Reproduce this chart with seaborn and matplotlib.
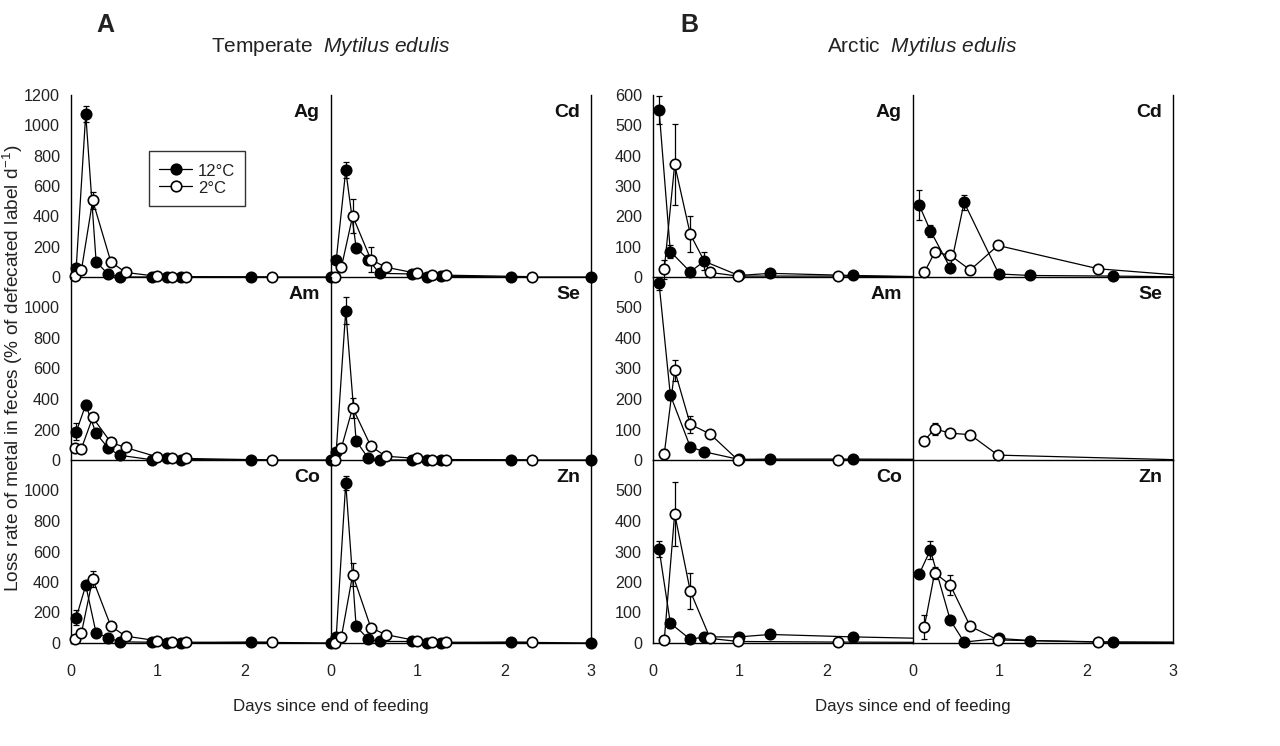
import numpy as np
import pandas as pd
import seaborn as sns
import matplotlib
matplotlib.use("Agg")
import matplotlib.pyplot as plt
from matplotlib.lines import Line2D

# ---------------- data ----------------
METALS = [["Ag", "Cd"], ["Am", "Se"], ["Co", "Zn"]]
TEMPS = ["12°C", "2°C"]
X_TICKS = [0, 0.5, 1, 1.5, 2, 2.5, 3]

# Temperate group (A) sampling times (days)
A12_T = [0.06, 0.17, 0.29, 0.43, 0.56, 0.93, 1.11, 1.27, 2.08, 3.0]
A2_T = [0.05, 0.12, 0.25, 0.46, 0.63, 0.99, 1.17, 1.33, 2.32]

A_AG_12 = [60, 1075, 100, 18, 0, 0, 0, 0, 0, 0]
A_AG_12_E = [0, 55, 0, 0, 0, 0, 0, 0, 0, 0]
A_AG_2 = [5, 45, 505, 100, 30, 5, 2, 2, 0]
A_AG_2_E = [0, 0, 55, 0, 0, 0, 0, 0, 0]

A_CD_12 = [110, 703, 194, 115, 24, 20, 0, 5, 0, 0]
A_CD_12_E = [0, 52, 0, 0, 0, 0, 0, 0, 0, 0]
A_CD_2 = [0, 65, 402, 115, 65, 24, 15, 12, 2]
A_CD_2_E = [0, 0, 110, 80, 0, 0, 0, 0, 0]

A_AM_12 = [185, 362, 174, 78, 31, 2, 10, 3, 0, 0]
A_AM_12_E = [55, 30, 0, 0, 0, 0, 0, 0, 0, 0]
A_AM_2 = [79, 75, 279, 115, 82, 21, 10, 10, 0]
A_AM_2_E = [0, 0, 0, 0, 0, 0, 0, 0, 0]

A_SE_12 = [55, 980, 125, 12, 0, 0, 0, 0, 0, 0]
A_SE_12_E = [0, 90, 0, 0, 0, 0, 0, 0, 0, 0]
A_SE_2 = [0, 80, 342, 90, 25, 10, 3, 3, 0]
A_SE_2_E = [0, 0, 65, 0, 0, 0, 0, 0, 0]

A_CO_12 = [166, 378, 65, 35, 8, 5, 0, 0, 5, 0]
A_CO_12_E = [50, 0, 0, 0, 0, 0, 0, 0, 0, 0]
A_CO_2 = [25, 65, 420, 110, 45, 15, 5, 5, 5]
A_CO_2_E = [0, 0, 50, 0, 0, 0, 0, 0, 0]

A_ZN_12 = [40, 1050, 110, 25, 10, 10, 0, 0, 5, 0]
A_ZN_12_E = [0, 47, 0, 0, 0, 0, 0, 0, 0, 0]
A_ZN_2 = [0, 40, 449, 100, 55, 15, 5, 5, 5]
A_ZN_2_E = [0, 0, 78, 0, 0, 0, 0, 0, 0]

# Arctic group (B) sampling times (days); lines run on past the axis end
B12_T = [0.07, 0.20, 0.43, 0.59, 0.99, 1.35, 2.31]
B2_T = [0.13, 0.25, 0.43, 0.66, 0.98, 2.14]
B_TAIL_T = 3.3

B_AG_12 = [551, 84, 17, 52, 5, 12, 5]
B_AG_12_E = [45, 20, 0, 30, 0, 0, 0]
B_AG_12_TAIL = 0
B_AG_2 = [25, 371, 141, 15, 3, 3]
B_AG_2_E = [30, 135, 60, 0, 0, 0]
B_AG_2_TAIL = 0

B_CD_12 = [238, 153, 30, 246, 10, 5, 3]
B_CD_12_E = [50, 20, 0, 25, 0, 0, 0]
B_CD_12_TAIL = 0
B_CD_2 = [15, 81, 72, 23, 104, 27]
B_CD_2_E = [0, 0, 0, 0, 0, 0]
B_CD_2_TAIL = 1

B_AM_12 = [579, 213, 43, 27, 2, 3, 3]
B_AM_12_E = [20, 15, 0, 0, 0, 0, 0]
B_AM_12_TAIL = 2
B_AM_2 = [20, 294, 117, 85, 0, 0]
B_AM_2_E = [15, 35, 27, 0, 0, 0]
B_AM_2_TAIL = 0

B_SE_2 = [63, 102, 88, 83, 16, np.nan]
B_SE_2_E = [0, 20, 0, 0, 0, 0]
B_SE_2_TAIL = -1

B_CO_12 = [308, 65, 12, 20, 20, 28, 20]
B_CO_12_E = [27, 15, 0, 0, 0, 0, 0]
B_CO_12_TAIL = 14
B_CO_2 = [10, 424, 170, 15, 5, 3]
B_CO_2_E = [0, 105, 58, 0, 0, 0]
B_CO_2_TAIL = 2

B_ZN_12 = [225, 305, 75, 3, 15, 8, 3]
B_ZN_12_E = [10, 28, 10, 0, 0, 0, 0]
B_ZN_12_TAIL = 2
B_ZN_2 = [52, 230, 190, 55, 10, 3]
B_ZN_2_E = [40, 20, 33, 0, 0, 0]
B_ZN_2_TAIL = 2

# series table built from the lists above: (group, metal, temp) -> (t, v, err, tail)
SERIES = {
    ("A", "Ag", 0): (A12_T, A_AG_12, A_AG_12_E, None), ("A", "Ag", 1): (A2_T, A_AG_2, A_AG_2_E, None),
    ("A", "Cd", 0): (A12_T, A_CD_12, A_CD_12_E, None), ("A", "Cd", 1): (A2_T, A_CD_2, A_CD_2_E, None),
    ("A", "Am", 0): (A12_T, A_AM_12, A_AM_12_E, None), ("A", "Am", 1): (A2_T, A_AM_2, A_AM_2_E, None),
    ("A", "Se", 0): (A12_T, A_SE_12, A_SE_12_E, None), ("A", "Se", 1): (A2_T, A_SE_2, A_SE_2_E, None),
    ("A", "Co", 0): (A12_T, A_CO_12, A_CO_12_E, None), ("A", "Co", 1): (A2_T, A_CO_2, A_CO_2_E, None),
    ("A", "Zn", 0): (A12_T, A_ZN_12, A_ZN_12_E, None), ("A", "Zn", 1): (A2_T, A_ZN_2, A_ZN_2_E, None),
    ("B", "Ag", 0): (B12_T, B_AG_12, B_AG_12_E, B_AG_12_TAIL), ("B", "Ag", 1): (B2_T, B_AG_2, B_AG_2_E, B_AG_2_TAIL),
    ("B", "Cd", 0): (B12_T, B_CD_12, B_CD_12_E, B_CD_12_TAIL), ("B", "Cd", 1): (B2_T, B_CD_2, B_CD_2_E, B_CD_2_TAIL),
    ("B", "Am", 0): (B12_T, B_AM_12, B_AM_12_E, B_AM_12_TAIL), ("B", "Am", 1): (B2_T, B_AM_2, B_AM_2_E, B_AM_2_TAIL),
    ("B", "Se", 1): (B2_T, B_SE_2, B_SE_2_E, B_SE_2_TAIL),
    ("B", "Co", 0): (B12_T, B_CO_12, B_CO_12_E, B_CO_12_TAIL), ("B", "Co", 1): (B2_T, B_CO_2, B_CO_2_E, B_CO_2_TAIL),
    ("B", "Zn", 0): (B12_T, B_ZN_12, B_ZN_12_E, B_ZN_12_TAIL), ("B", "Zn", 1): (B2_T, B_ZN_2, B_ZN_2_E, B_ZN_2_TAIL),
}

Y_MAX = {"A": 1200, "B": 600}
Y_STEP = {"A": 200, "B": 100}

# ---------------- style ----------------
sns.set_theme(style="white")
plt.rcParams["font.family"] = ["Liberation Sans", "DejaVu Sans"]
plt.rcParams["mathtext.fontset"] = "custom"
plt.rcParams["mathtext.rm"] = "Liberation Sans"
plt.rcParams["mathtext.it"] = "Liberation Sans:italic"
plt.rcParams["mathtext.bf"] = "Liberation Sans:bold"
plt.rcParams["mathtext.default"] = "regular"
plt.rcParams["text.color"] = "#222222"

FS = 11.6
W, H = 1280, 746
fig = plt.figure(figsize=(12.8, 7.46), dpi=100)
fig.patch.set_facecolor("white")

COL_PX = {"A": [(71, 331), (331, 591)], "B": [(653, 913), (913, 1173)]}
ROW_PX = [(95, 277), (277, 460), (460, 643)]


def draw_series(ax, t, v, e, filled, tail):
    df = pd.DataFrame({"t": t, "v": v, "e": e}).dropna(subset=["v"])
    line_df = df[["t", "v"]]
    if tail is not None:
        line_df = pd.concat([line_df, pd.DataFrame({"t": [B_TAIL_T], "v": [tail]})],
                            ignore_index=True)
    sns.lineplot(data=line_df, x="t", y="v", ax=ax, color="black", lw=0.9,
                 sort=False, estimator=None, legend=False, zorder=2)
    eb = df[df["e"] > 0]
    if len(eb):
        ax.errorbar(eb["t"], eb["v"], yerr=eb["e"], fmt="none", ecolor="black",
                    elinewidth=0.9, capsize=2.3, capthick=0.9, zorder=3, clip_on=False)
    sns.scatterplot(data=df, x="t", y="v", ax=ax,
                    color="black" if filled else "white", edgecolor="black",
                    linewidth=1.2, s=56, zorder=4 if filled else 5,
                    clip_on=False, legend=False)


for g, cols in COL_PX.items():
    for r, (yt, yb) in enumerate(ROW_PX):
        for c, (x0, x1) in enumerate(cols):
            ax = fig.add_axes([x0 / W, 1 - yb / H, (x1 - x0) / W, (yb - yt) / H])
            ax.set_facecolor("none")
            metal = METALS[r][c]
            for k in (0, 1):
                key = (g, metal, k)
                if key in SERIES:
                    t, v, e, tail = SERIES[key]
                    draw_series(ax, t, v, e, k == 0, tail)
            ax.set_xlim(0, 3)
            ax.set_ylim(0, Y_MAX[g])
            ax.set_xlabel("")
            ax.set_ylabel("")
            for s in ax.spines.values():
                s.set_color("black")
                s.set_linewidth(1.0)
            ax.spines["top"].set_visible(False)
            ax.spines["right"].set_visible(c == 1)
            yt_vals = list(range(0, Y_MAX[g] + 1, Y_STEP[g]))
            ax.set_yticks(yt_vals)
            if c == 0:
                labs = [str(y) for y in yt_vals]
                if r > 0:
                    labs[-1] = ""
                ax.set_yticklabels(labs)
            else:
                ax.set_yticklabels([])
            ax.set_xticks(X_TICKS)
            if r == 2:
                xl = [str(int(x)) if float(x).is_integer() else "" for x in X_TICKS]
                if c == 0:
                    xl[-1] = ""
                ax.set_xticklabels(xl)
            else:
                ax.set_xticklabels([])
            ax.tick_params(axis="both", direction="out", length=3.0, width=1.0,
                           color="black", labelsize=FS, labelcolor="#222222")
            ax.tick_params(axis="y", pad=5)
            ax.tick_params(axis="x", pad=12)
            ax.text(1 - 11 / (x1 - x0), 1 - 9 / (yb - yt), metal, transform=ax.transAxes,
                    ha="right", va="top", fontsize=14, fontweight="bold", color="#111111")
            if g == "A" and r == 0 and c == 0:
                handles = [
                    Line2D([], [], color="black", lw=0.9, marker="o", markersize=7.6,
                           markerfacecolor="black", markeredgecolor="black", markeredgewidth=1.2),
                    Line2D([], [], color="black", lw=0.9, marker="o", markersize=7.6,
                           markerfacecolor="white", markeredgecolor="black", markeredgewidth=1.2),
                ]
                leg = ax.legend(handles, TEMPS, loc="upper left", bbox_to_anchor=(0.30, 0.69),
                                borderaxespad=0, frameon=True, fancybox=False, fontsize=12,
                                handlelength=2.0, handletextpad=0.35, borderpad=0.6,
                                handleheight=1.2, labelspacing=0.0)
                leg.get_frame().set_edgecolor("black")
                leg.get_frame().set_linewidth(1.0)

# group letters and titles
fig.text(96 / W, 1 - 25 / H, "A", fontsize=18, fontweight="bold", ha="left", va="center")
fig.text(680 / W, 1 - 25 / H, "B", fontsize=18, fontweight="bold", ha="left", va="center")
fig.text(331 / W, 1 - 46 / H, r"Temperate  $\mathit{Mytilus\ edulis}$", fontsize=15,
         ha="center", va="center")
fig.text(922 / W, 1 - 46 / H, r"Arctic  $\mathit{Mytilus\ edulis}$", fontsize=15,
         ha="center", va="center")

# axis titles
fig.text(331 / W, 1 - 706 / H, "Days since end of feeding", fontsize=12.2, ha="center", va="center")
fig.text(913 / W, 1 - 706 / H, "Days since end of feeding", fontsize=12.2, ha="center", va="center")
fig.text(13 / W, 1 - 368 / H, r"Loss rate of metal in feces (% of defecated label d$^{-1}$)",
         fontsize=13.8, rotation=90, ha="center", va="center")

fig.savefig("out.png", dpi=100, facecolor="white")
